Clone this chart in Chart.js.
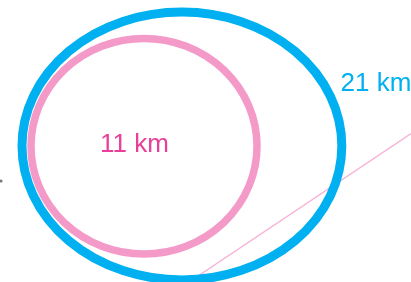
<!DOCTYPE html>
<html>
<head>
<meta charset="utf-8">
<script src="https://cdn.jsdelivr.net/npm/chart.js@4/dist/chart.umd.min.js"></script>
<style>
    html, body { margin: 0; padding: 0; background: #fff; }
    #wrap { position: relative; width: 411px; height: 282px; }
</style>
</head>
<body>
<div id="wrap"><canvas id="rings"></canvas></div>
<script>
// Ring data, in diagram units (1 unit = 1 km-ish step on the drawing)
const ringLabels = ['21 km', '11 km'];
const ringCenterX = [18.19, 14.4];
const ringCenterY = [13.6, 13.58];
const ringRadiusX = [15.99, 11.3];
const ringRadiusY = [13.4, 10.78];
const labelX = [34.05, 10.0];
const labelY = [19.1, 13.0];

// Thin route line crossing the outer ring
const routeX = [18.9, 41.1];
const routeY = [0, 14.85];

// Small marker at the left edge
const markX = [0.1];
const markY = [10.1];

const ringColors = ['#00b0f0', '#f49ac9'];
const ringWidths = [9, 7.5];
const labelColors = ['#00b0f0', '#e8409a'];

// Plugin that draws the rings and their labels through the chart scales
const ringPlugin = {
    id: 'rings',
    afterDatasetsDraw(chart) {
        const ctx = chart.ctx;
        const xs = chart.scales.x;
        const ys = chart.scales.y;
        ctx.save();
        ringLabels.forEach((label, i) => {
            const cx = xs.getPixelForValue(ringCenterX[i]);
            const cy = ys.getPixelForValue(ringCenterY[i]);
            const rx = Math.abs(xs.getPixelForValue(ringCenterX[i] + ringRadiusX[i]) - cx);
            const ry = Math.abs(ys.getPixelForValue(ringCenterY[i] + ringRadiusY[i]) - cy);
            ctx.beginPath();
            ctx.ellipse(cx, cy, rx, ry, 0, 0, Math.PI * 2);
            ctx.strokeStyle = ringColors[i];
            ctx.lineWidth = ringWidths[i];
            ctx.stroke();
        });
        ctx.font = '26px "Liberation Sans", Arial, sans-serif';
        ctx.textBaseline = 'alphabetic';
        ctx.textAlign = 'left';
        ringLabels.forEach((label, i) => {
            ctx.fillStyle = labelColors[i];
            ctx.fillText(label, xs.getPixelForValue(labelX[i]), ys.getPixelForValue(labelY[i]));
        });
        ctx.restore();
    }
};

new Chart(document.getElementById('rings'), {
    type: 'scatter',
    data: {
        datasets: [
            {
                data: routeX.map((x, i) => ({ x: x, y: routeY[i] })),
                showLine: true,
                borderColor: '#f6b6d9',
                borderWidth: 1.5,
                pointRadius: 0
            },
            {
                data: markX.map((x, i) => ({ x: x, y: markY[i] })),
                backgroundColor: '#777',
                borderWidth: 0,
                pointRadius: 1.6
            }
        ]
    },
    options: {
        responsive: true,
        maintainAspectRatio: false,
        animation: false,
        layout: { padding: 0, autoPadding: false },
        plugins: {
            legend: { display: false },
            tooltip: { enabled: false }
        },
        scales: {
            x: { type: 'linear', min: 0, max: 41.1, display: false },
            y: { type: 'linear', min: 0, max: 28.2, display: false }
        }
    },
    plugins: [ringPlugin]
});
</script>
</body>
</html>
